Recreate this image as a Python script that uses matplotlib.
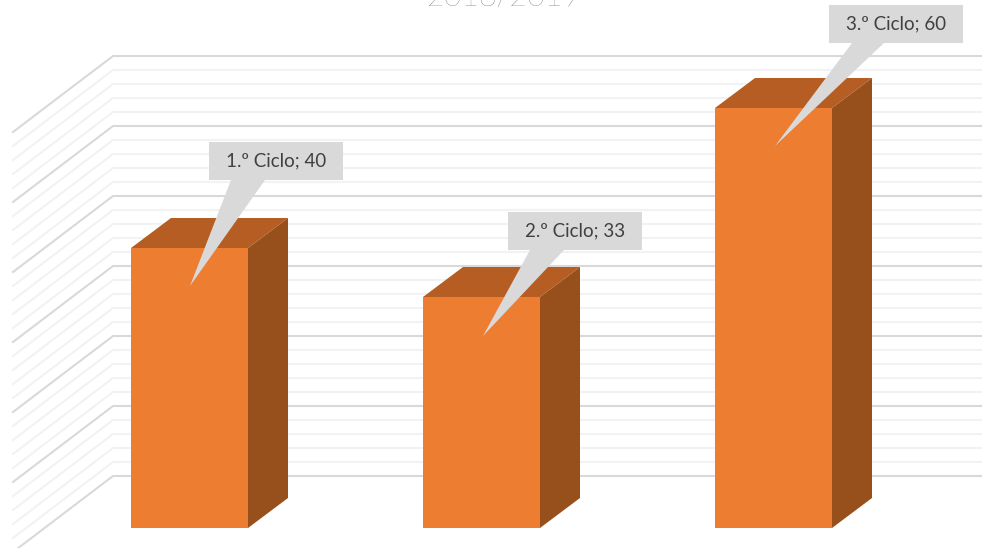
import matplotlib as mpl
mpl.use('Agg')
import matplotlib.pyplot as plt
from matplotlib.patches import Polygon, Rectangle
from matplotlib.transforms import Affine2D

plt.rcParams['font.family'] = ['Lato', 'DejaVu Sans']

title = '2018/2019'
categories = ['1.º Ciclo', '2.º Ciclo', '3.º Ciclo']
values = [40, 33, 60]
major_ticks = [0, 10, 20, 30, 40, 50, 60]
minor_ticks = [v for v in range(0, 60, 2) if v % 10]

W, H = 982, 548
PX_X = 292      # pixels per category
PX_Y = 7        # pixels per unit
BASE_X, BASE_Y = 189.5, 528
BAR_W = 117 / PX_X
DEPTH_X, DEPTH_Y = 40 / PX_X, 30 / PX_Y
WALL_X = (113 - BASE_X) / PX_X
WALL_Y = (BASE_Y - 476) / PX_Y
SIDE_X, SIDE_Y = 100 / PX_X, 76 / PX_Y

fig = plt.figure(figsize=(W / 100, H / 100), dpi=100)
ax = fig.add_axes([0, 0, 1, 1])
ax.set_xlim(-BASE_X / PX_X, (W - BASE_X) / PX_X)
ax.set_ylim((BASE_Y - H) / PX_Y, BASE_Y / PX_Y)
ax.axis('off')

# pixel coordinates, origin top left, for the callouts and the title
px = Affine2D().scale(1, -1).translate(0, H)


def draw_wall_line(v, color):
    y = v + WALL_Y
    ax.plot([WALL_X - SIDE_X, WALL_X, ax.get_xlim()[1]],
            [y - SIDE_Y, y, y], color=color, lw=1.5, zorder=1,
            solid_joinstyle='miter')


for v in minor_ticks:
    draw_wall_line(v, '#f2f2f2')
for v in major_ticks:
    draw_wall_line(v, '#d9d9d9')

positions = range(len(values))
ax.bar(positions, values, width=BAR_W, color='#ed7d31', zorder=3)
for i, v in zip(positions, values):
    r = i + BAR_W / 2
    l = i - BAR_W / 2
    ax.add_patch(Polygon([(l, v), (r, v), (r + DEPTH_X, v + DEPTH_Y),
                          (l + DEPTH_X, v + DEPTH_Y)],
                         fc='#b55d22', ec='none', zorder=3))
    ax.add_patch(Polygon([(r, 0), (r + DEPTH_X, DEPTH_Y),
                          (r + DEPTH_X, v + DEPTH_Y), (r, v)],
                         fc='#974f1c', ec='none', zorder=3))

# callouts: box left, box top, tail base left, tail base right, tip x, tip y
callouts = [(209, 142, 231, 265, 190, 286),
            (508, 212, 530, 564, 483, 336),
            (829, 5, 852, 884, 775, 146)]
BOX_W, BOX_H = 134, 38
for cat, v, c in zip(categories, values, callouts):
    x, y, b0, b1, tx, ty = c
    fig.add_artist(Rectangle((x, y), BOX_W, BOX_H, fc='#d9d9d9', ec='none',
                             transform=px, zorder=5))
    fig.add_artist(Polygon([(b0, y + BOX_H), (b1, y + BOX_H), (tx, ty)],
                           fc='#d9d9d9', ec='none', transform=px, zorder=5))
    fig.text(x + BOX_W / 2, y + BOX_H / 2, f'{cat}; {v}', transform=px,
             ha='center', va='center', fontsize=13.5, color='#404040',
             zorder=6)

fig.text(504, 6, title, transform=px, ha='center', va='baseline',
         fontsize=22, color='#595959', fontweight='light')

fig.savefig('out.png', dpi=100)
